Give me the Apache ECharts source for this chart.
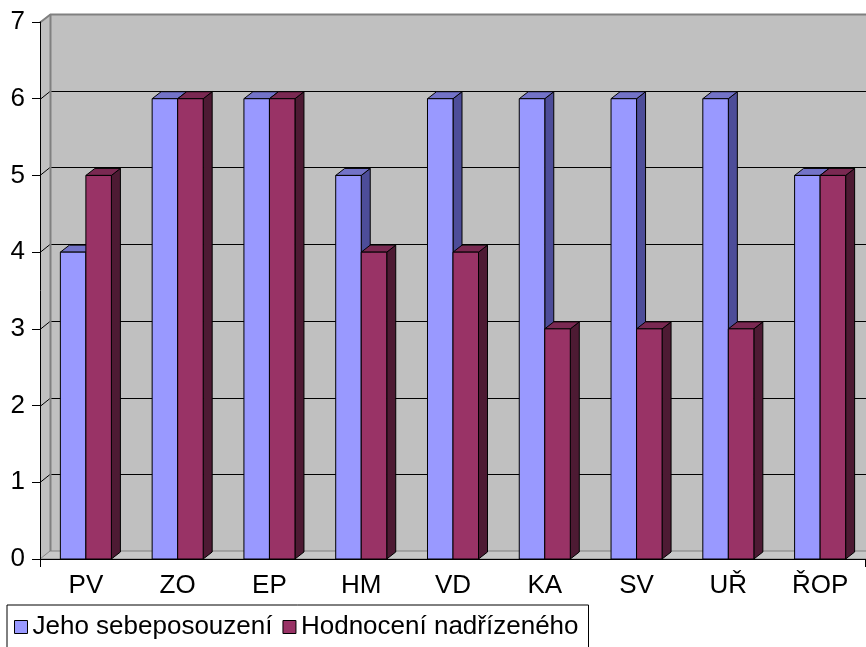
<!DOCTYPE html>
<html>
<head>
<meta charset="utf-8">
<script src="https://cdn.jsdelivr.net/npm/echarts@6/dist/echarts.min.js"></script>
<style>
  html, body { margin: 0; padding: 0; background: #fff; }
  #chart { width: 866px; height: 647px; }
</style>
</head>
<body>
<div id="chart"></div>
<script>
// Ratings per competency
const categories = ['PV', 'ZO', 'EP', 'HM', 'VD', 'KA', 'SV', 'UŘ', 'ŘOP'];
const selfRating = [4, 6, 6, 5, 6, 6, 6, 6, 5];
const supervisorRating = [5, 6, 6, 4, 4, 3, 3, 3, 5];
const yTicks = [0, 1, 2, 3, 4, 5, 6, 7];
const seriesNames = ['Jeho sebeposouzení', 'Hodnocení nadřízeného'];

// Face colours for the pseudo-3D columns: front, top, side
const palettes = [
  { front: '#9999FF', top: '#7373C8', side: '#4D4D99' },
  { front: '#993366', top: '#7A2952', side: '#4D1A33' }
];

const WALL_DX = 10, WALL_DY = 8;   // depth offset of the back wall
const BAR_DX = 9, BAR_DY = 7;      // depth of each column
const BAR_RATIO = 0.278;           // column width as a share of the category band
const FONT = 'Liberation Sans, Arial, sans-serif';

const yMax = yTicks[yTicks.length - 1];

function px(v) { return Math.round(v) + 0.5; }

// Back wall, side wall, floor and gridlines
function renderFrame(params, api) {
  const cs = params.coordSys;
  const x = cs.x, w = cs.width;
  const y0 = api.coord([0, 0])[1];
  const yTop = api.coord([0, yMax])[1];
  const children = [];
  const wallStyle = { fill: '#C0C0C0', stroke: null };
  children.push({ type: 'rect', shape: { x: x + WALL_DX, y: yTop - WALL_DY, width: w, height: y0 - yTop }, style: wallStyle });
  children.push({ type: 'polygon', shape: { points: [[x, yTop], [x + WALL_DX, yTop - WALL_DY], [x + WALL_DX, y0 - WALL_DY], [x, y0]] }, style: wallStyle });
  children.push({ type: 'polygon', shape: { points: [[x, y0], [x + WALL_DX, y0 - WALL_DY], [x + w + WALL_DX, y0 - WALL_DY], [x + w, y0]] }, style: { fill: '#C8C8C8', stroke: '#808080', lineWidth: 1 } });
  yTicks.forEach(function (v) {
    if (v === 0 || v === yMax) return;
    const yv = api.coord([0, v])[1];
    children.push({ type: 'polyline', shape: { points: [[x, px(yv)], [x + WALL_DX, px(yv - WALL_DY)], [x + w + WALL_DX, px(yv - WALL_DY)]] }, style: { stroke: '#000', lineWidth: 1, fill: null } });
  });
  children.push({ type: 'polyline', shape: { points: [[x, px(yTop)], [px(x + WALL_DX), px(yTop - WALL_DY)], [x + w + WALL_DX, px(yTop - WALL_DY)]] }, style: { stroke: '#808080', lineWidth: 2, fill: null } });
  children.push({ type: 'line', shape: { x1: px(x + WALL_DX), y1: yTop - WALL_DY, x2: px(x + WALL_DX), y2: y0 - WALL_DY }, style: { stroke: '#808080', lineWidth: 2 } });
  children.push({ type: 'line', shape: { x1: px(x), y1: y0, x2: px(x), y2: y0 + 8 }, style: { stroke: '#000', lineWidth: 1 } });
  children.push({ type: 'line', shape: { x1: px(x + w - 1), y1: y0, x2: px(x + w - 1), y2: y0 + 8 }, style: { stroke: '#000', lineWidth: 1 } });
  return { type: 'group', children: children };
}

function makeBarRenderer(side) {
  const pal = palettes[side];
  return function (params, api) {
    const idx = api.value(0);
    const v = api.value(1);
    const base = api.coord([idx, 0]);
    const top = api.coord([idx, v]);
    const band = api.size([1, 0])[0];
    const w = band * BAR_RATIO;
    const x0 = side === 0 ? base[0] - w : base[0];
    const x1 = x0 + w;
    const yt = top[1], yb = base[1];
    const edge = { stroke: '#000', lineWidth: 1, lineJoin: 'miter' };
    return {
      type: 'group',
      children: [
        { type: 'polygon', shape: { points: [[x1, yt], [x1 + BAR_DX, yt - BAR_DY], [x1 + BAR_DX, yb - BAR_DY], [x1, yb]] }, style: Object.assign({ fill: pal.side }, edge) },
        { type: 'polygon', shape: { points: [[x0, yt], [x0 + BAR_DX, yt - BAR_DY], [x1 + BAR_DX, yt - BAR_DY], [x1, yt]] }, style: Object.assign({ fill: pal.top }, edge) },
        { type: 'rect', shape: { x: x0, y: yt, width: w, height: yb - yt }, style: Object.assign({ fill: pal.front }, edge) }
      ]
    };
  };
}

const chart = echarts.init(document.getElementById('chart'), null, { renderer: 'canvas' });
chart.setOption({
  animation: false,
  backgroundColor: '#fff',
  textStyle: { fontFamily: FONT },
  grid: { left: 40, right: 0, top: 22, bottom: 88 },
  xAxis: {
    type: 'category',
    data: categories,
    axisLine: { show: true, lineStyle: { color: '#000', width: 1 } },
    axisTick: { show: false },
    axisLabel: { color: '#000', fontSize: 26, fontFamily: FONT, margin: 14 },
    splitLine: { show: false },
    z: 10
  },
  yAxis: {
    type: 'value',
    min: 0,
    max: yMax,
    interval: 1,
    axisLine: { show: true, lineStyle: { color: '#000', width: 1 } },
    axisTick: { show: true, length: 8, lineStyle: { color: '#000' } },
    axisLabel: { color: '#000', fontSize: 26, fontFamily: FONT, margin: 15 },
    splitLine: { show: false },
    z: 10
  },
  legend: {
    left: 7,
    top: 605,
    orient: 'horizontal',
    borderColor: '#000',
    borderWidth: 1,
    borderRadius: 0,
    padding: [9, 10, 30, 7],
    itemWidth: 13,
    itemHeight: 13,
    itemGap: 10,
    textStyle: { color: '#000', fontSize: 26, fontFamily: FONT },
    data: [
      { name: seriesNames[0], icon: 'rect', itemStyle: { color: palettes[0].front, borderColor: '#000', borderWidth: 1 } },
      { name: seriesNames[1], icon: 'rect', itemStyle: { color: palettes[1].front, borderColor: '#000', borderWidth: 1 } }
    ]
  },
  series: [
    {
      name: 'frame',
      type: 'custom',
      renderItem: renderFrame,
      data: [[0, 0]],
      clip: false,
      silent: true,
      z: 1
    },
    {
      name: seriesNames[0],
      type: 'custom',
      renderItem: makeBarRenderer(0),
      itemStyle: { color: palettes[0].front },
      data: selfRating.map(function (v, i) { return [i, v]; }),
      clip: false,
      z: 2
    },
    {
      name: seriesNames[1],
      type: 'custom',
      renderItem: makeBarRenderer(1),
      itemStyle: { color: palettes[1].front },
      data: supervisorRating.map(function (v, i) { return [i, v]; }),
      clip: false,
      z: 3
    }
  ]
});
</script>
</body>
</html>
